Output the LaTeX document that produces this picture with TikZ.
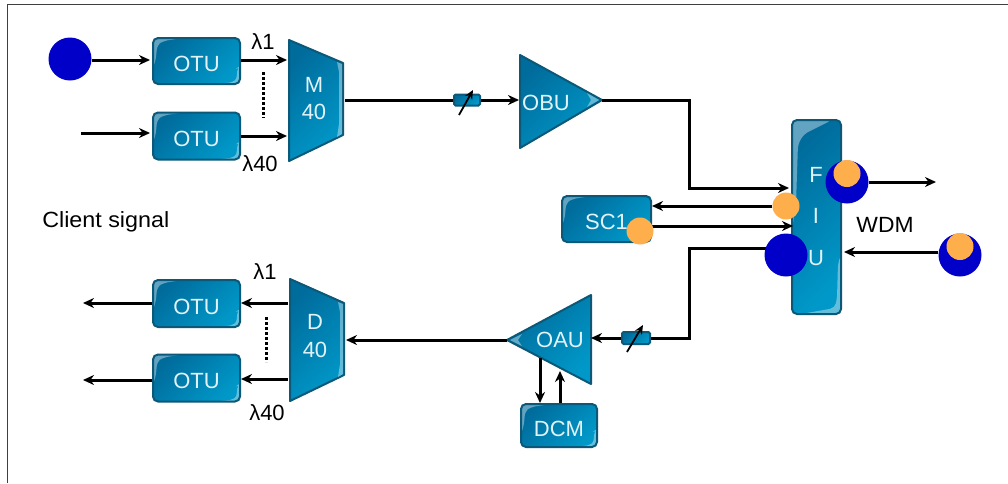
\documentclass[tikz,border=0pt]{standalone}
\usepackage{fontspec}
\setmainfont{Liberation Sans}
\usetikzlibrary{arrows.meta}
\pgfdeclarelayer{front}
\pgfsetlayers{main,front}
\definecolor{bluedark}{HTML}{006C9C}
\definecolor{bluelite}{HTML}{0098C8}
\definecolor{edgeblue}{HTML}{0B5878}
\definecolor{dotblue}{HTML}{0000C8}
\definecolor{dotorange}{HTML}{FFAE4C}
\definecolor{labelpale}{HTML}{E2F2F7}
\def\px{0.75pt}
\newcommand{\lowertext}[1]{\smash{\raisebox{-8pt}{#1}}}
\tikzset{
  x=0.75pt,y=-0.75pt,
  metal/.style={draw=edgeblue,line width=2*\px,top color=bluedark,bottom color=bluelite,shading angle=45},
  gloss/.style={fill=white,opacity=.38,draw=none},
  boxunit/.style={metal,rounded corners=5*\px,inner sep=0pt,text=labelpale,font=\fontsize{16.5}{16.5}\selectfont,
    path picture={
      \fill[gloss] (path picture bounding box.north west) -- ++(30,0) -- ++(-20,3) -- ++(-6,4) -- ++(-1,14) -- ++(-3,9) -- cycle;
      \fill[gloss] (path picture bounding box.south east) -- ++(-24,0) -- ++(19,-2) -- ++(2,-4) -- ++(0,-10) -- ++(3,-2) -- cycle;
    }},
  sideunit/.style={metal,rounded corners=5*\px,inner sep=0pt,
    path picture={
      \fill[gloss] (path picture bounding box.north west) -- ++(40,0) -- ++(-28,14) -- ++(-6,10) -- ++(-2,60) -- ++(-4,26) -- cycle;
      \fill[gloss] (path picture bounding box.south east) -- ++(-40,0) -- ++(34,-6) -- ++(2,-10) -- ++(1,-35) -- ++(3,-8) -- cycle;
    }},
  tag/.style={text=labelpale,inner sep=0pt,font=\fontsize{16.5}{16.5}\selectfont},
  plain/.style={text=black,inner sep=0pt,font=\fontsize{16.5}{16.5}\selectfont},
  bluedot/.style={circle,fill=dotblue,inner sep=0pt,minimum size=43*\px},
  orangedot/.style={circle,fill=dotorange,inner sep=0pt,minimum size=27*\px},
  wire/.style={line width=3*\px,draw=black,-{Stealth[length=11*\px,width=10*\px]}},
  bare/.style={line width=3*\px,draw=black},
  dots/.style={line width=3*\px,draw=black,dash pattern=on 2.5*\px off 2.5*\px},
  atten/.style={metal,rounded corners=1.5*\px,inner sep=0pt},
  slant/.style={line width=1.8*\px,draw=black,-{Stealth[length=9*\px,width=8*\px]}}
}
\begin{document}
\begin{tikzpicture}
\useasboundingbox (0,0) rectangle (1008,483);
\fill[white] (0,0) rectangle (1008,483);
\draw[draw=black!75,line width=1*\px] (1008,4.5) -- (7.5,4.5) -- (7.5,483);

% boxes
\node[boxunit,minimum width=87*\px,minimum height=46*\px] (otua) at (196.5,61) {\lowertext{OTU}};
\node[boxunit,minimum width=87*\px,minimum height=47*\px] (otub) at (196.5,136) {\lowertext{OTU}};
\node[boxunit,minimum width=87*\px,minimum height=47*\px] (otuc) at (196.5,303.5) {\lowertext{OTU}};
\node[boxunit,minimum width=87*\px,minimum height=47*\px] (otud) at (196.5,378) {\lowertext{OTU}};
\node[boxunit,minimum width=89*\px,minimum height=46*\px] (sc) at (606.5,219) {\lowertext{SC1}};
\node[boxunit,minimum width=76*\px,minimum height=43*\px] (dcm) at (559,425.5) {\lowertext{DCM}};
\node[sideunit,minimum width=49*\px,minimum height=194*\px] (fiu) at (816.5,217) {};
\node[tag] (fl) at (816,175) {F};
\node[tag] (il) at (816,216) {I};
\node[tag] (ul) at (816,258) {U};

% mux / demux
\draw[metal,line join=round] (289,40) -- (343,63) -- (343,135) -- (289,161) -- cycle;
\fill[gloss] (342,64) -- (337,62) -- (339,72) -- (339,124) -- (337,137) -- (342,134) -- cycle;
\node[tag] (mm) at (314,85) {M};
\node[tag] (mn) at (314,112) {40};
\draw[metal,line join=round] (290,279) -- (344,303) -- (344,375) -- (290,401) -- cycle;
\fill[gloss] (343,304) -- (338,302) -- (340,312) -- (340,364) -- (338,377) -- (343,374) -- cycle;
\node[tag] (dd) at (315,322) {D};
\node[tag] (dn) at (315,350) {40};

% amplifiers
\draw[metal,line join=round] (520,55) -- (602,100) -- (520,148) -- cycle;
\fill[gloss] (599,100) -- (587,93) -- (591,100) -- (587,107) -- cycle;
\node[tag] (obu) at (546,103) {OBU};
\draw[metal,line join=round] (507,340) -- (591,295) -- (591,384) -- cycle;
\fill[gloss] (510,340) -- (522,334) -- (518,340) -- (522,346) -- cycle;
\node[tag] (oau) at (560,340) {OAU};

% attenuators
\node[atten,minimum width=26*\px,minimum height=11*\px] (atta) at (467,100) {};
\node[atten,minimum width=28*\px,minimum height=12*\px] (attb) at (636,338) {};

% free labels
\node[plain] (la) at (263,42) {λ1};
\node[plain] (lb) at (260,164) {λ40};
\node[plain] (lc) at (265,272) {λ1};
\node[plain] (ld) at (267,413) {λ40};
\node[plain,anchor=west] (cs) at (42,222) {\addfontfeature{FakeStretch=1.06}Client signal};
\node[plain] (wdm) at (885,225) {\addfontfeature{FakeStretch=1.04}WDM};

% dots on top
\begin{pgfonlayer}{front}
\node[bluedot] (srcin) at (70,59) {};
\node[bluedot] (bfa) at (847,182) {};
\node[orangedot] (ofa) at (847,173.5) {};
\node[bluedot] (bfb) at (786,255) {};
\node[orangedot] (ofb) at (786,206) {};
\node[orangedot] (osc) at (640,231) {};
\node[bluedot] (brt) at (960,255) {};
\node[orangedot] (ort) at (960,246.5) {};
\end{pgfonlayer}

% connector ends
\coordinate (muxa) at (287,60);
\coordinate (muxb) at (287,136);
\coordinate (muxo) at (345,100);
\coordinate (obuin) at (519,100);
\coordinate (obuo) at (602,100);
\coordinate (demi) at (346,340);
\coordinate (demc) at (288,303);
\coordinate (demd) at (288,379);
\coordinate (oaul) at (507,340);
\coordinate (oaur) at (591,338);
\coordinate (feedin) at (81,133);
\coordinate (outa) at (83,303);
\coordinate (outb) at (83,380);
\coordinate (wdmo) at (936,182);
\coordinate (dcmdn) at (540,358);
\coordinate (dcmup) at (560,371);
\coordinate (fiua) at (789,188);
\coordinate (fiub) at (793,226);
\coordinate (fiuc) at (844,252);
\coordinate (bfbw) at (768,248);

% connectors
\draw[wire] (srcin.east |- 0,60) -- (150,60);
\draw[wire] (feedin) -- (150,133);
\draw[wire] (otua.east |- muxa) -- (muxa);
\draw[wire] (otub.east |- muxb) -- (muxb);
\draw[bare] (muxo) -- (atta.west);
\draw[wire] (atta.east) -- (obuin);
\draw[wire] (obuo) -- (689,100) -- (689,188) -- (fiua);
\draw[wire] (ofb.west) -- (sc.east |- ofb.west);
\draw[wire] (sc.east |- fiub) -- (fiub);
\draw[wire] (bfa.east) -- (wdmo);
\draw[wire] (brt.west |- fiuc) -- (fiuc);
\draw[bare] (bfbw) -- (689,248) -- (689,338) -- (attb.east);
\draw[wire] (attb.west) -- (oaur);
\draw[wire] (oaul) -- (demi);
\draw[wire] (demc) -- (otuc.east |- demc);
\draw[wire] (demd) -- (otud.east |- demd);
\draw[wire] (otuc.west |- outa) -- (outa);
\draw[wire] (otud.west |- outb) -- (outb);
\draw[wire] (dcmdn) -- (dcm.north -| dcmdn);
\draw[wire] (dcm.north -| dcmup) -- (dcmup);
\draw[dots] (263,72) -- (263,118);
\draw[dots] (266,317) -- (266,362);
\draw[slant] (459,115) -- (473,90);
\draw[slant] (627,352) -- (643,325);
\end{tikzpicture}
\end{document}
